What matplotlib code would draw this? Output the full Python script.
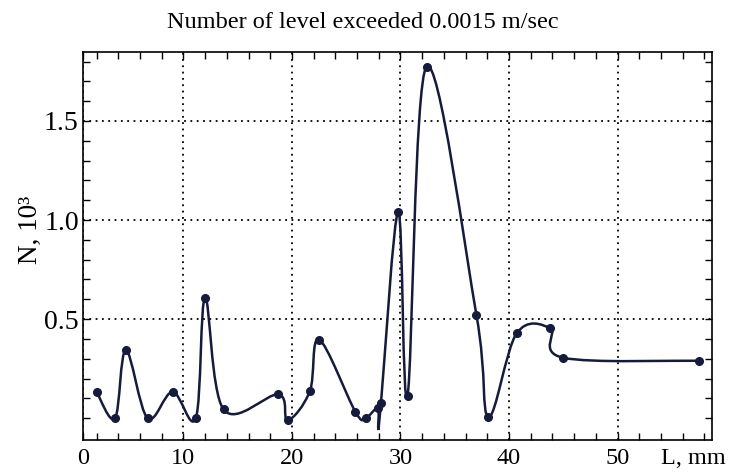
import numpy as np
import matplotlib
matplotlib.use("Agg")
import matplotlib.pyplot as plt
from matplotlib.path import Path
from matplotlib.patches import PathPatch
from matplotlib.ticker import MultipleLocator, FixedLocator

# distance along the sample, mm
L_mm = [2.0, 3.7, 4.7, 6.7, 9.0, 11.15, 12.0, 13.7, 18.75, 19.6, 21.65, 22.5,
        25.85, 26.8, 27.9, 27.95, 28.2, 29.8, 30.65, 32.4, 37.0, 38.1, 40.7,
        43.8, 45.0, 57.5]
# number of level exceedances, x10^3
N_k = [0.133, 0.0, 0.343, 0.0, 0.133, 0.002, 0.607, 0.044, 0.12, -0.01, 0.136,
       0.397, 0.032, 0.002, 0.05, -0.05, 0.075, 1.042, 0.113, 1.774, 0.52,
       0.007, 0.428, 0.453, 0.305, 0.29]
# the dip at 27.95 is only a kink of the curve, no marker there
marked = [i for i in range(len(L_mm)) if i != 15]

x_ticks = [0.75, 10, 20, 30, 40, 50]
x_labels = ["0", "10", "20", "30", "40", "50"]
y_ticks = [0.5, 1.0, 1.5]
y_labels = ["0.5", "1.0", "1.5"]

plt.rcParams["font.family"] = ["Liberation Serif", "DejaVu Serif"]
navy = "#161a3c"

fig = plt.figure(figsize=(7.3, 4.75), dpi=100)
ax = fig.add_axes([0.1137, 0.0737, 0.8616, 0.8168])

# smooth curve through the points (Catmull-Rom as cubic Bezier segments)
k = 1.05  # tangent scale
pts = np.column_stack([L_mm, N_k])
ext = np.vstack([pts[0], pts, pts[-1]])
verts = [pts[0]]
codes = [Path.MOVETO]
for i in range(len(pts) - 1):
    p0, p1, p2, p3 = ext[i], ext[i + 1], ext[i + 2], ext[i + 3]
    verts += [p1 + k * (p2 - p0) / 6.0, p2 - k * (p3 - p1) / 6.0, p2]
    codes += [Path.CURVE4] * 3
ax.add_patch(PathPatch(Path(verts, codes), facecolor="none", edgecolor=navy,
                       lw=1.8, zorder=3))
ax.plot([L_mm[i] for i in marked], [N_k[i] for i in marked], "o", color=navy,
        ms=5.5, zorder=4)

ax.set_xlim(0.75, 58.7)
ax.set_ylim(-0.11, 1.848)
ax.set_xticks(x_ticks)
ax.set_xticklabels(x_labels, fontsize=17.5)
ax.set_yticks(y_ticks)
ax.set_yticklabels(y_labels, fontsize=20)
ax.xaxis.set_minor_locator(MultipleLocator(2))
ax.yaxis.set_minor_locator(FixedLocator(np.arange(0, 1.85, 0.1)))
ax.tick_params(which="both", direction="in", top=True, right=True,
               length=5, width=1, color="black")
ax.tick_params(axis="x", pad=6)
ax.tick_params(axis="y", pad=3)
ax.grid(True, which="major", linestyle=(0, (1, 2.5)), color="black", lw=1.3)
for s in ax.spines.values():
    s.set_linewidth(1.2)

fig.text(363 / 730, 1 - 23 / 475, "Number of level exceeded 0.0015 m/sec",
         ha="center", va="center", fontsize=17.5)
fig.text(30 / 730, 1 - 230 / 475, "N, 10³", rotation=90, ha="center",
         va="center", fontsize=19.5)
fig.text(693 / 730, 1 - 459 / 475, "L, mm", ha="center", va="center",
         fontsize=17.5)

fig.savefig("out.png", dpi=100)
